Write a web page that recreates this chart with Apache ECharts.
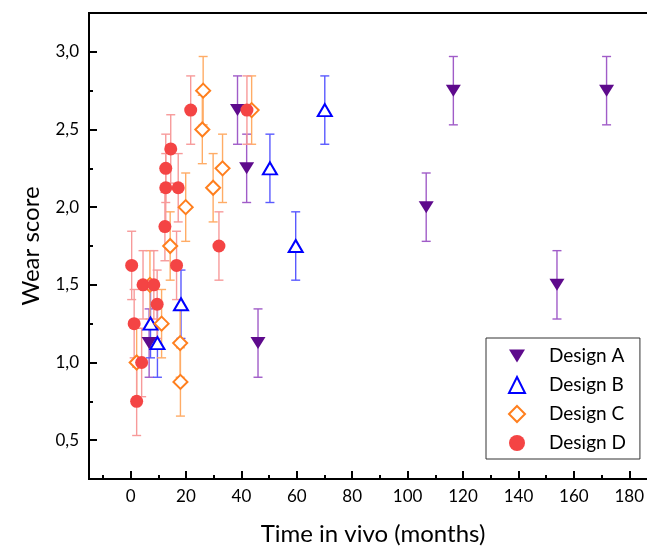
<!DOCTYPE html>
<html>
<head>
<meta charset="utf-8">
<title>Wear score</title>
<script src="https://cdn.jsdelivr.net/npm/echarts@6/dist/echarts.min.js"></script>
<style>
  html, body { margin: 0; padding: 0; background: #fff; }
  #chart { width: 647px; height: 550px; }
</style>
</head>
<body>
<div id="chart"></div>
<script>
// data (x = months, y = wear score, err = +/- error)
var designA_x = [6.7, 38.6, 41.9, 46, 106.7, 116.5, 153.9, 171.8];
var designA_y = [1.125, 2.625, 2.25, 1.125, 2.0, 2.75, 1.5, 2.75];
var designA_err = [0.22, 0.22, 0.22, 0.22, 0.22, 0.22, 0.22, 0.22];

var designB_x = [7.2, 9.7, 18.2, 50.3, 59.6, 70.1];
var designB_y = [1.25, 1.125, 1.375, 2.25, 1.75, 2.625];
var designB_err = [0.22, 0.22, 0.22, 0.22, 0.22, 0.22];

var designC_x = [2.2, 7, 11.2, 14.3, 17.9, 18, 19.9, 25.9, 26.2, 29.8, 33.2, 43.7];
var designC_y = [1.0, 1.5, 1.25, 1.75, 1.125, 0.875, 2.0, 2.5, 2.75, 2.125, 2.25, 2.625];
var designC_err = [0.22, 0.22, 0.22, 0.22, 0.22, 0.22, 0.22, 0.22, 0.22, 0.22, 0.22, 0.22];

var designD_x = [0.4, 1.3, 2.2, 4.0, 4.5, 8.4, 9.6, 12.4, 12.7, 12.7, 14.5, 16.6, 17.2, 21.7, 31.9, 42];
var designD_y = [1.625, 1.25, 0.75, 1.0, 1.5, 1.5, 1.375, 1.875, 2.125, 2.25, 2.375, 1.625, 2.125, 2.625, 1.75, 2.625];
var designD_err = [0.22, 0.22, 0.22, 0.22, 0.22, 0.22, 0.22, 0.22, 0.22, 0.22, 0.22, 0.22, 0.22, 0.22, 0.22, 0.22];

var xTicks = [0, 20, 40, 60, 80, 100, 120, 140, 160, 180];
var xMinorTicks = [-10, 10, 30, 50, 70, 90, 110, 130, 150, 170, 190];
var yTicks = [0.5, 1.0, 1.5, 2.0, 2.5, 3.0];
var yMinorTicks = [0.75, 1.25, 1.75, 2.25, 2.75];

var FONT = 'Lato';

drawChart();

function points(xs, ys) {
	var out = [];
	for (var i = 0; i < xs.length; i++) out.push([xs[i], ys[i]]);
	return out;
}

function bars(xs, ys, errs) {
	var out = [];
	for (var i = 0; i < xs.length; i++) out.push([xs[i], ys[i] - errs[i], ys[i] + errs[i]]);
	return out;
}

function errorSeries(name, xs, ys, errs, color) {
	return {
		name: name,
		type: 'custom',
		data: bars(xs, ys, errs),
		encode: { x: 0, y: [1, 2] },
		silent: true,
		renderItem: function (params, api) {
			var x = api.value(0);
			var top = api.coord([x, api.value(2)]);
			var bot = api.coord([x, api.value(1)]);
			var hw = 4.5;
			var style = { stroke: color, lineWidth: 1.4 };
			return {
				type: 'group',
				children: [
					{ type: 'line', shape: { x1: top[0], y1: top[1], x2: bot[0], y2: bot[1] }, style: style },
					{ type: 'line', shape: { x1: top[0] - hw, y1: top[1], x2: top[0] + hw, y2: top[1] }, style: style },
					{ type: 'line', shape: { x1: bot[0] - hw, y1: bot[1], x2: bot[0] + hw, y2: bot[1] }, style: style }
				]
			};
		}
	};
}

function drawChart() {
	var myChart = echarts.init(document.getElementById('chart'));
	var comma = function (v) { return v.toFixed(1).replace('.', ','); };
	var option = {
		animation: false,
		grid: {
			left: 89, top: 13, width: 568, height: 466,
			outerBoundsMode: 'none', containLabel: false,
			show: true, borderColor: '#000', borderWidth: 2
		},
		legend: {
			orient: 'vertical',
			left: 486, top: 338,
			padding: [8, 14, 6, 22],
			itemWidth: 16, itemHeight: 16, itemGap: 9,
			borderColor: '#333', borderWidth: 1,
			data: [
				{ name: 'Design A', icon: 'path://M0,0L16,0L8,13Z' },
				'Design B', 'Design C', 'Design D'
			],
			textStyle: { fontFamily: FONT, fontSize: 19, color: '#000', lineHeight: 20, padding: [0, 0, 0, 19] }
		},
		xAxis: [
			{
				type: 'value', min: -15, max: 190, position: 'bottom',
				name: 'Time in vivo (months)', nameLocation: 'middle', nameGap: 43,
				nameTextStyle: { fontFamily: FONT, fontSize: 24, color: '#000' },
				axisLine: { onZero: false, lineStyle: { color: '#000', width: 2 } },
				axisTick: { inside: true, length: 8, customValues: xTicks, lineStyle: { color: '#000', width: 2 } },
				axisLabel: { customValues: xTicks, margin: 9, fontFamily: FONT, fontSize: 17, color: '#000' },
				splitLine: { show: false }
			},
			{
				type: 'value', min: -15, max: 190, position: 'bottom',
				axisLine: { show: false, onZero: false },
				axisTick: { inside: true, length: 4, customValues: xMinorTicks, lineStyle: { color: '#000', width: 2 } },
				axisLabel: { show: false },
				splitLine: { show: false }
			}
		],
		yAxis: [
			{
				type: 'value', min: 0.25, max: 3.25, position: 'left',
				name: 'Wear score', nameLocation: 'middle', nameGap: 46,
				nameTextStyle: { fontFamily: FONT, fontSize: 24, color: '#000' },
				axisLine: { onZero: false, lineStyle: { color: '#000', width: 2 } },
				axisTick: { inside: true, length: 8, customValues: yTicks, lineStyle: { color: '#000', width: 2 } },
				axisLabel: { customValues: yTicks, margin: 10, formatter: comma, fontFamily: FONT, fontSize: 17, color: '#000' },
				splitLine: { show: false }
			},
			{
				type: 'value', min: 0.25, max: 3.25, position: 'left',
				axisLine: { show: false, onZero: false },
				axisTick: { inside: true, length: 4, customValues: yMinorTicks, lineStyle: { color: '#000', width: 2 } },
				axisLabel: { show: false },
				splitLine: { show: false }
			}
		],
		series: [
			errorSeries('errA', designA_x, designA_y, designA_err, '#a05cc8'),
			{
				name: 'Design A', type: 'scatter',
				data: points(designA_x, designA_y),
				symbol: 'triangle', symbolRotate: 180, symbolSize: [15, 12],
				itemStyle: { color: '#5e0a8c', opacity: 1 }
			},
			errorSeries('errB', designB_x, designB_y, designB_err, '#5a5aff'),
			{
				name: 'Design B', type: 'scatter',
				data: points(designB_x, designB_y),
				symbol: 'triangle', symbolSize: [14, 12],
				itemStyle: { color: '#fff', borderColor: '#0000ff', borderWidth: 2, opacity: 1 }
			},
			errorSeries('errC', designC_x, designC_y, designC_err, '#ffac66'),
			{
				name: 'Design C', type: 'scatter',
				data: points(designC_x, designC_y),
				symbol: 'diamond', symbolSize: 14,
				itemStyle: { color: '#fff', borderColor: '#ff7f1e', borderWidth: 2, opacity: 1 }
			},
			errorSeries('errD', designD_x, designD_y, designD_err, '#f79a9a'),
			{
				name: 'Design D', type: 'scatter',
				data: points(designD_x, designD_y),
				symbol: 'circle', symbolSize: 13,
				itemStyle: { color: '#f44444', opacity: 1 }
			}
		]
	};
	myChart.setOption(option);
}
</script>
</body>
</html>
